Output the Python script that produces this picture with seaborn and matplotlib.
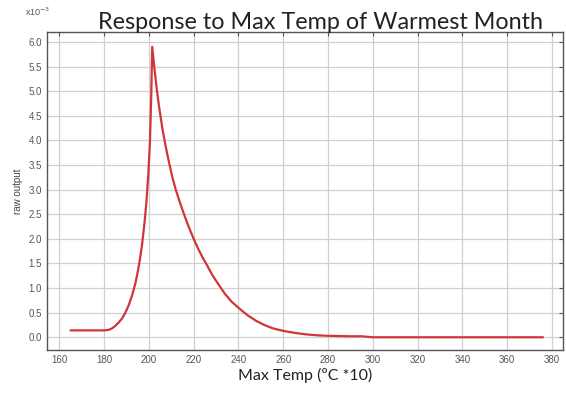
import numpy as np
import pandas as pd
import matplotlib.pyplot as plt
import seaborn as sns

#------------------------------------------------
# response curve (raw output in units of 1e-3)
temp = [165, 170, 175, 180, 182, 183.5, 185, 186.5, 188, 189.5, 191, 192.5, 194, 195,
        196, 197, 198, 199, 199.8, 200.5, 201, 201.5,
        202.5, 203.5, 204.5, 206, 207.5, 209, 210.5, 212, 214, 216, 218, 220, 222,
        224, 226, 228.5, 231, 234, 237, 240.5, 244, 248, 252, 255.5,
        260, 265, 270, 275, 280, 290, 295, 300, 320, 340, 360, 376]
resp = [0.14, 0.14, 0.14, 0.14, 0.15, 0.18, 0.23, 0.3, 0.38, 0.5, 0.65, 0.85, 1.1, 1.32,
        1.58, 1.9, 2.3, 2.8, 3.35, 4.0, 4.8, 5.9,
        5.45, 5.05, 4.7, 4.25, 3.88, 3.55, 3.25, 3.0, 2.72, 2.46, 2.22, 2.0, 1.8,
        1.62, 1.46, 1.25, 1.08, 0.88, 0.72, 0.58, 0.45, 0.33, 0.24, 0.18,
        0.13, 0.09, 0.06, 0.04, 0.03, 0.02, 0.02, 0.0, 0.0, 0.0, 0.0, 0.0]

xticks = list(range(160, 381, 20))
yticks = [i / 2 for i in range(0, 13)]

##########################################################
df = pd.DataFrame({'temp': temp, 'resp': resp})

sns.set_style('white')
plt.rcParams['font.family'] = ['Liberation Sans', 'DejaVu Sans']

fig = plt.figure(figsize=(5.66, 4.01), dpi=100)
ax = fig.add_axes([0.083, 0.127, 0.912, 0.793])

sns.lineplot(data=df, x='temp', y='resp', ax=ax, color='#d0353a', lw=1.6)

ax.set_xlim(154.5, 385)
ax.set_ylim(-0.26, 6.2)
ax.set_xticks(xticks)
ax.set_yticks(yticks)
ax.set_yticklabels([f'{v:.1f}' for v in yticks])
ax.grid(True, color='#d0d0d0', lw=0.9)
ax.tick_params(direction='in', length=3, width=0.8, colors='#555555',
               labelsize=7, top=True, right=True, labelcolor='#555555')
for s in ax.spines.values():
    s.set_color('#555555')
    s.set_linewidth(1.0)

ax.set_xlabel('Max Temp (ºC *10)', fontsize=11.5, family=['Lato', 'DejaVu Sans'],
              color='#222222', labelpad=2)
ax.set_ylabel('raw output', fontsize=7, color='#444444', labelpad=4)
ax.set_title('Response to Max Temp of Warmest Month', fontsize=16.8,
             family=['Lato', 'DejaVu Sans'], color='#222222', pad=2, x=0.53)
fig.text(0.045, 0.955, r'x10$^{-3}$', fontsize=6.5, color='#555555', ha='left', va='bottom')

#save
plt.savefig('out.png', dpi=100)
plt.close()
